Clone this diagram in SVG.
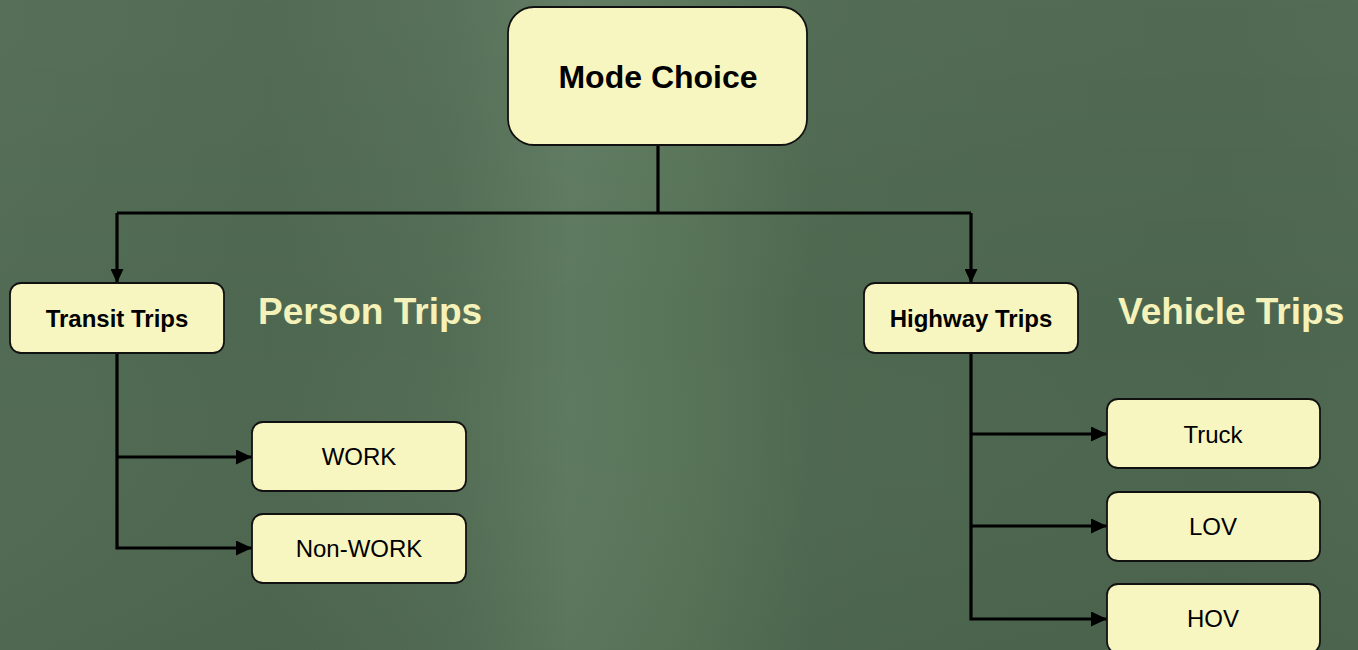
<svg xmlns="http://www.w3.org/2000/svg" width="1358" height="650" viewBox="0 0 1358 650">
  <defs>
    <linearGradient id="bg" x1="0" y1="0" x2="1" y2="0">
      <stop offset="0" stop-color="#526b54"/>
      <stop offset="0.2" stop-color="#4e6750"/>
      <stop offset="0.33" stop-color="#536d55"/>
      <stop offset="0.42" stop-color="#5d795f"/>
      <stop offset="0.5" stop-color="#587458"/>
      <stop offset="0.6" stop-color="#4e6850"/>
      <stop offset="0.75" stop-color="#4d664f"/>
      <stop offset="0.9" stop-color="#4c654e"/>
      <stop offset="1" stop-color="#4e6750"/>
    </linearGradient>
    <linearGradient id="bgv" x1="0" y1="0" x2="0" y2="1">
      <stop offset="0" stop-color="#ffffff" stop-opacity="0.03"/>
      <stop offset="0.5" stop-color="#ffffff" stop-opacity="0"/>
      <stop offset="1" stop-color="#000000" stop-opacity="0.03"/>
    </linearGradient>
    <marker id="arr" markerWidth="16" markerHeight="15" refX="16" refY="7.5" orient="auto" markerUnits="userSpaceOnUse">
      <path d="M0,0 L16,7.5 L0,15 z" fill="#000"/>
    </marker>
    <marker id="arrd" markerWidth="14" markerHeight="13" refX="14" refY="6.5" orient="auto" markerUnits="userSpaceOnUse">
      <path d="M0,0 L14,6.5 L0,13 z" fill="#000"/>
    </marker>
    <style>
      .box { fill: #f8f6c0; stroke: #111; stroke-width: 1.8; }
      .lbl { font-family: "Liberation Sans", Arial, sans-serif; fill: #000; text-anchor: middle; }
      .b { font-weight: bold; }
      .title { font-family: "Liberation Sans", Arial, sans-serif; font-weight: bold; font-size: 37px; fill: #f5f2b9; }
      .con { fill: none; stroke: #000; stroke-width: 3.2; }
    </style>
  </defs>
  <rect x="0" y="0" width="1358" height="650" fill="url(#bg)"/>
  <rect x="0" y="0" width="1358" height="650" fill="url(#bgv)"/>

  <g id="connectors">
    <path class="con" d="M658,145 V213"/>
    <path class="con" d="M117,213 H971"/>
    <path class="con" d="M117,213 V283" marker-end="url(#arrd)"/>
    <path class="con" d="M971,213 V283" marker-end="url(#arrd)"/>
    <path class="con" d="M117,353 V548 H252" marker-end="url(#arr)"/>
    <path class="con" d="M117,457 H252" marker-end="url(#arr)"/>
    <path class="con" d="M971,353 V619 H1107" marker-end="url(#arr)"/>
    <path class="con" d="M971,434 H1107" marker-end="url(#arr)"/>
    <path class="con" d="M971,526 H1107" marker-end="url(#arr)"/>
  </g>

  <g id="mode-choice">
    <rect class="box" x="508" y="7" width="299" height="138" rx="26" ry="26"/>
    <text class="lbl b" x="658" y="88" font-size="32">Mode Choice</text>
  </g>
  <g id="transit-trips">
    <rect class="box" x="10" y="283" width="214" height="70" rx="11" ry="11"/>
    <text class="lbl b" x="117" y="327" font-size="24">Transit Trips</text>
  </g>
  <g id="highway-trips">
    <rect class="box" x="864" y="283" width="214" height="70" rx="11" ry="11"/>
    <text class="lbl b" x="971" y="327" font-size="24">Highway Trips</text>
  </g>
  <g id="person-trips-label">
    <text class="title" x="258" y="324">Person Trips</text>
  </g>
  <g id="vehicle-trips-label">
    <text class="title" x="1118" y="324">Vehicle Trips</text>
  </g>
  <g id="work">
    <rect class="box" x="252" y="422" width="214" height="69" rx="11" ry="11"/>
    <text class="lbl" x="359" y="465" font-size="24">WORK</text>
  </g>
  <g id="non-work">
    <rect class="box" x="252" y="514" width="214" height="69" rx="11" ry="11"/>
    <text class="lbl" x="359" y="557" font-size="24">Non-WORK</text>
  </g>
  <g id="truck">
    <rect class="box" x="1107" y="399" width="213" height="69" rx="11" ry="11"/>
    <text class="lbl" x="1213" y="443" font-size="24">Truck</text>
  </g>
  <g id="lov">
    <rect class="box" x="1107" y="492" width="213" height="69" rx="11" ry="11"/>
    <text class="lbl" x="1213" y="535" font-size="24">LOV</text>
  </g>
  <g id="hov">
    <rect class="box" x="1107" y="584" width="213" height="69" rx="11" ry="11"/>
    <text class="lbl" x="1213" y="627" font-size="24">HOV</text>
  </g>
</svg>
